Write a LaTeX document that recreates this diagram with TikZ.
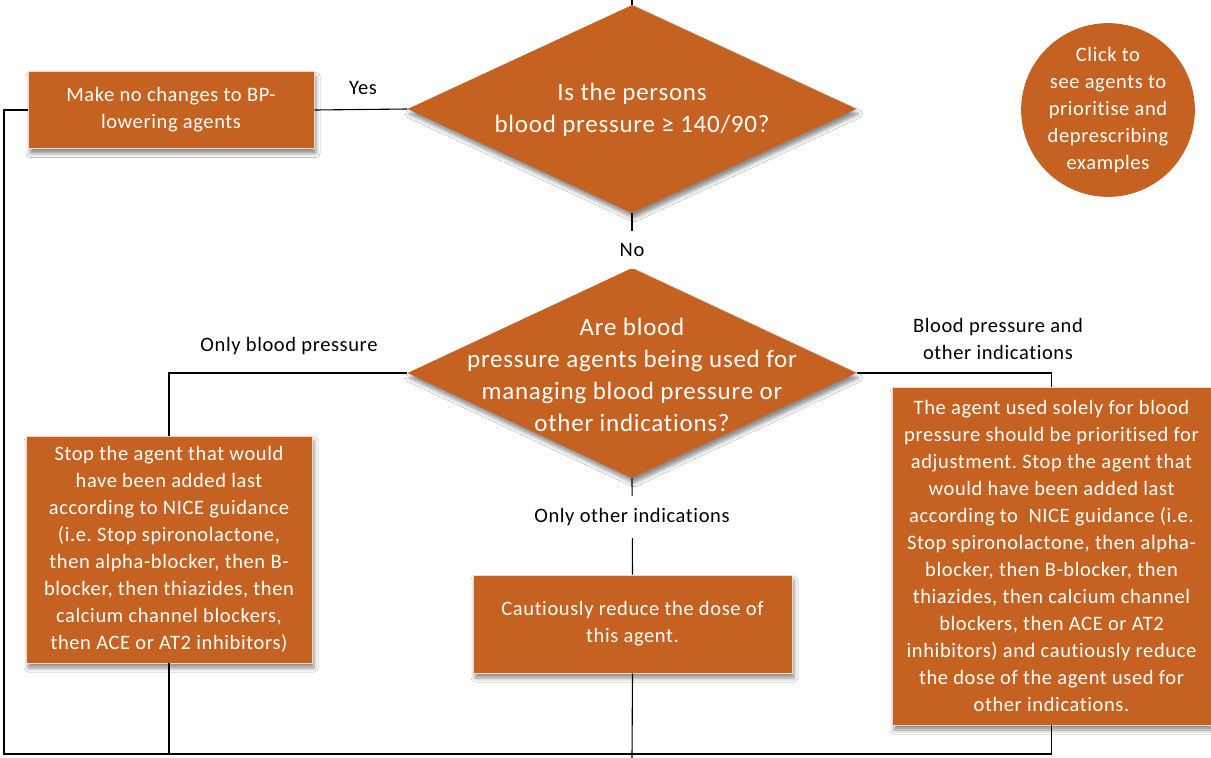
\documentclass[tikz,border=0pt]{standalone}
\usepackage{fontspec}
\setmainfont{Carlito}[LetterSpace=3,Ligatures={NoCommon,NoContextual}]
\frenchspacing
\usetikzlibrary{shapes.geometric,shadows.blur}
\definecolor{boxorange}{RGB}{197,98,34}
\tikzset{
  shade/.style={blur shadow={shadow xshift=2pt,shadow yshift=-5pt,shadow blur radius=4pt,shadow opacity=45}},
  obox/.style={rectangle,fill=boxorange,draw=white!75!boxorange,line width=0.8pt,text=white,align=center,inner sep=0pt,shade},
  odiam/.style={diamond,fill=boxorange,draw=none,inner sep=0pt,shade},
  dtext/.style={text=white,align=center,font=\fontsize{25}{31.5}\selectfont},
  btext/.style={font=\fontsize{20.5}{27}\selectfont},
  lbl/.style={text=black,align=center,font=\fontsize{20.5}{27}\selectfont},
  gaplbl/.style={lbl,fill=white,inner xsep=4pt,inner ysep=12pt},
  conn/.style={draw=black,line width=1.1pt}
}
\begin{document}
\begin{tikzpicture}[x=1pt,y=-1pt]
\useasboundingbox (0,0) rectangle (1211,758);
\fill[white] (0,0) rectangle (1211,758);

% decisions
\node[odiam,minimum width=449pt,minimum height=208pt] (d1) at (632,109) {};
\node[dtext] (d1t) at (632,110) {Is the persons\\blood pressure ≥ 140/90?};
\node[odiam,minimum width=449pt,minimum height=210pt] (d2) at (632,373) {};
\node[dtext,font=\fontsize{25}{32}\selectfont] (d2t) at (632,375) {Are blood\\pressure agents being used for\\managing blood pressure or\\other indications?};

% boxes
\node[obox,btext,minimum width=286pt,minimum height=77pt] (noch) at (171,110) {Make no changes to BP-\\lowering agents};
\node[obox,btext,minimum width=286pt,minimum height=227pt] (lbox) at (169,549.5) {Stop the agent that would\\have been added last\\according to NICE guidance\\(i.e. Stop spironolactone,\\then alpha-blocker, then B-\\blocker, then thiazides, then\\calcium channel blockers,\\then ACE or AT2 inhibitors)};
\node[obox,btext,minimum width=319pt,minimum height=98pt] (mbox) at (632.5,624) {Cautiously reduce the dose of\\this agent.};
\node[obox,btext,minimum width=319pt,minimum height=338pt] (rbox) at (1051.5,556) {The agent used solely for blood\\pressure should be prioritised for\\adjustment. Stop the agent that\\would have been added last\\according to~ NICE guidance (i.e.\\Stop spironolactone, then alpha-\\blocker, then B-blocker, then\\thiazides, then calcium channel\\blockers, then ACE or AT2\\inhibitors) and cautiously reduce\\the dose of the agent used for\\other indications.};

% circle
\node[circle,fill=boxorange,draw=none,minimum size=158pt,inner sep=0pt,text=white,align=center,btext] (circ) at (1108,110) {Click to\\see agents to\\prioritise and\\deprescribing\\examples};

% connector ends
\coordinate (top) at (632,0);
\coordinate (bl) at (4,754);
\coordinate (bm) at (632,758);

% connectors
\draw[conn] (d1.north) -- (top);
\draw[conn] (d1.west) -- (noch.east);
\draw[conn] (noch.west) -| (bl) -- (rbox.south |- bl) -- (rbox.south);
\draw[conn] (lbox.south) -- (lbox.south |- bl);
\draw[conn] (mbox.south) -- (bm);
\draw[conn] (d1.south) -- (d2.north);
\draw[conn] (d2.west) -| (lbox.north);
\draw[conn] (d2.east) -| (rbox.north);
\draw[conn] (d2.south) -- (mbox.north);

% labels
\node[lbl] (yes) at (363,88) {Yes};
\node[gaplbl] (no) at (632,250) {No};
\node[lbl] (onlybp) at (289,346) {Only blood pressure};
\node[lbl] (bpother) at (998,339) {Blood pressure and\\other indications};
\node[gaplbl] (onlyother) at (632,517) {Only other indications};
\end{tikzpicture}
\end{document}
